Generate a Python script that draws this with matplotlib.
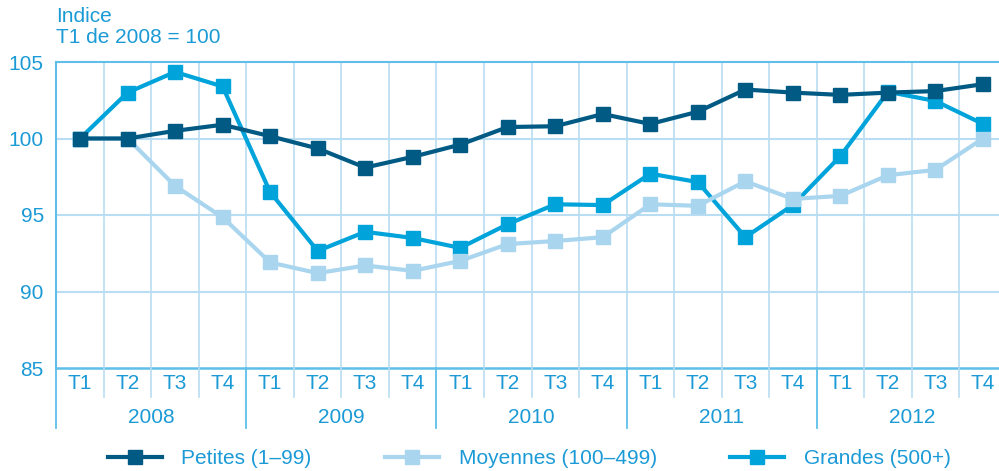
import numpy as np
import matplotlib.pyplot as plt
from matplotlib import transforms
from matplotlib.lines import Line2D

plt.rcParams['font.family'] = ['Liberation Sans', 'DejaVu Sans']

years = ['2008', '2009', '2010', '2011', '2012']
quarters = ['T1', 'T2', 'T3', 'T4']

petites = [100.0, 100.0, 100.5, 100.9, 100.15, 99.35, 98.1, 98.8, 99.6, 100.75,
           100.8, 101.6, 100.95, 101.75, 103.2, 103.0, 102.85, 103.0, 103.1, 103.55]
moyennes = [100.0, 100.0, 96.9, 94.85, 91.9, 91.2, 91.7, 91.35, 92.0, 93.1,
            93.3, 93.55, 95.7, 95.6, 97.2, 96.05, 96.25, 97.6, 97.95, 100.0]
grandes = [100.0, 103.0, 104.35, 103.4, 96.5, 92.65, 93.9, 93.5, 92.85, 94.4,
           95.7, 95.65, 97.7, 97.15, 93.55, 95.65, 98.85, 103.05, 102.45, 100.95]

c_dark = '#005a84'
c_light = '#a9d5ef'
c_mid = '#00a3da'
c_text = '#1b9ad6'
c_grid = '#b9ddf2'
c_axis = '#5fbfe9'
fs = 15

fig = plt.figure(figsize=(9.99, 4.71), dpi=100)
ax = fig.add_axes([56.25 / 999, 103 / 471, 950.5 / 999, 306 / 471])

n = len(years) * len(quarters)
x = np.arange(n)

lw = 3.0
ms = 10
ax.plot(x, grandes, color=c_mid, lw=lw, marker='s', ms=ms, zorder=3)
ax.plot(x, moyennes, color=c_light, lw=lw, marker='s', ms=ms, zorder=4)
ax.plot(x, petites, color=c_dark, lw=lw, marker='s', ms=ms, zorder=5)

ax.set_xlim(-0.5, n - 0.5)
ax.set_ylim(85, 105)

# grid
for b in np.arange(0.5, n - 0.5, 1):
    ax.axvline(b, color=c_grid, lw=1.2, zorder=1)
for yv in [90, 95, 100]:
    ax.axhline(yv, color=c_grid, lw=1.5, zorder=1)
ax.axhline(105, color=c_axis, lw=1.5, zorder=2, clip_on=False)

for s in ['top', 'right', 'bottom']:
    ax.spines[s].set_visible(False)
ax.spines['left'].set_color(c_axis)
ax.spines['left'].set_linewidth(1.5)
ax.axhline(85, color=c_axis, lw=1.8, zorder=2, clip_on=False)

ax.set_yticks([85, 90, 95, 100, 105])
ax.set_yticklabels(['85', '90', '95', '100', '105'], color=c_text, fontsize=fs)
ax.tick_params(axis='y', length=0, pad=9)
ax.set_xticks([])

# category axis below
trans = transforms.blended_transform_factory(ax.transData, ax.transAxes)
for i in range(n):
    ax.text(i, -0.052, quarters[i % 4], transform=trans, ha='center', va='center',
            color=c_text, fontsize=fs)
    b = i - 0.5
    if i % 4 == 0:
        ax.plot([b, b], [0, -0.196], transform=trans, color=c_axis, lw=1.3, clip_on=False)
    else:
        ax.plot([b, b], [0, -0.095], transform=trans, color=c_grid, lw=1.2, clip_on=False)
for k, yr in enumerate(years):
    ax.text(4 * k + 1.5, -0.162, yr, transform=trans, ha='center', va='center',
            color=c_text, fontsize=fs)

fig.text(56 / 999, 1 - 7 / 471, 'Indice\nT1 de 2008 = 100', ha='left', va='top',
         color=c_text, fontsize=fs, linespacing=1.15)

handles = [Line2D([], [], color=c, lw=lw, marker='s', ms=ms) for c in (c_dark, c_light, c_mid)]
labels = ['Petites (1–99)', 'Moyennes (100–499)', 'Grandes (500+)']
leg = fig.legend(handles, labels, loc='center', bbox_to_anchor=(529 / 999, 1 - 459 / 471), ncol=3,
                 frameon=False, fontsize=fs, handlelength=2.6, handletextpad=0.95,
                 columnspacing=3.5)
for t in leg.get_texts():
    t.set_color(c_text)

fig.savefig('out.png', dpi=100)
